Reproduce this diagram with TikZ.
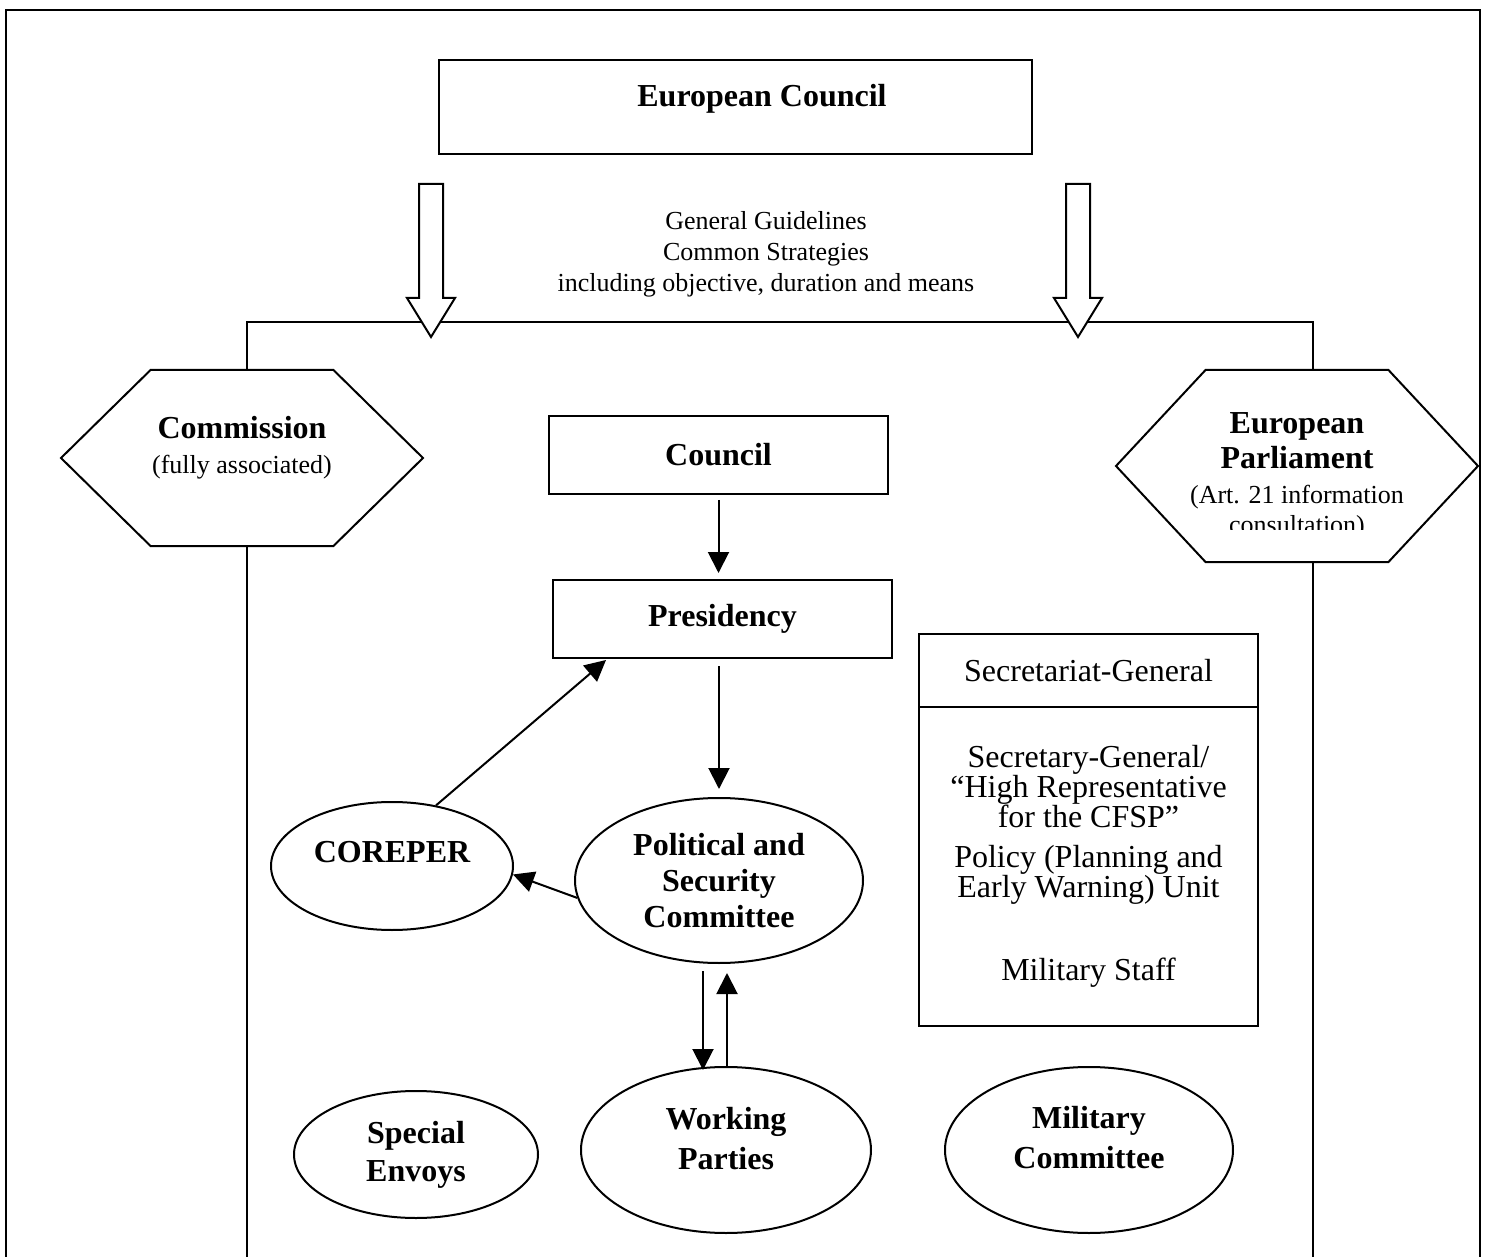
\documentclass[tikz,border=0pt]{standalone}
\usepackage{fontspec}
\setmainfont{Liberation Serif}
\usetikzlibrary{arrows.meta,positioning,shapes.geometric,shapes.symbols,calc}
\tikzstyle{box}=[draw, rectangle, inner sep=0pt, outer sep=0pt]
\tikzstyle{big}=[font=\bfseries\fontsize{16}{18}\selectfont]
\tikzstyle{small}=[font=\fontsize{13}{15.5}\selectfont]
\tikzstyle{hexa}=[draw, signal, signal to=west and east, inner sep=0pt]
\tikzstyle{hextext}=[align=center, font=\bfseries\fontsize{16}{17.5}\selectfont]
\tikzstyle{blob}=[draw, ellipse, inner sep=0pt, align=center, font=\bfseries\fontsize{16}{19}\selectfont]
\tikzstyle{blobtext}=[align=center, font=\bfseries\fontsize{16}{20}\selectfont]
\tikzstyle{link}=[-{Triangle[length=10.5pt,width=10.5pt]}]

\begin{document}
\begin{tikzpicture}[x=0.5pt,y=-0.5pt,line width=1pt]
    \useasboundingbox (0,0) rectangle (1485,1257);
    \draw (6,1257) -- (6,10) -- (1480,10) -- (1480,1257);

    % European Council and its guidelines
    \node[box, minimum width=296.5pt, minimum height=47pt,
          label={[big, xshift=13.25pt, yshift=4pt]center:European Council}] (eucouncil) at (735.5,107) {};
    \node[small, align=center] (guide) at (766,254)
        {General Guidelines\\Common Strategies\\including objective, duration and means};
    \coordinate (lrail) at (247,322);
    \coordinate (rrail) at (1313,322);
    \coordinate (lfoot) at (247,1257);
    \coordinate (rfoot) at (1313,1257);

    % side institutions
    \node[hexa, minimum width=181pt, minimum height=88pt, signal pointer angle=89,
          label={[hextext, yshift=5pt]center:{Commission\\{\mdseries\fontsize{13}{14}\selectfont (fully associated)}}}]
          (comm) at (242,458) {};
    \node[hexa, minimum width=181pt, minimum height=96pt, signal pointer angle=94,
          label={[hextext, yshift=2.5pt]center:{European\\Parliament\\{\mdseries\fontsize{13}{14}\selectfont (Art. 21 information}}}]
          (ep) at (1297,466) {};
    \begin{scope}
        \clip (1150,440) rectangle (1450,530);
        \node[small, anchor=base] (consult) at (1297,533) {consultation)};
    \end{scope}

    \draw (comm.north -| lrail) -- (lrail) -- (rrail) -- (ep.north -| rrail);
    \draw (comm.south -| lfoot) -- (lfoot);
    \draw (ep.south -| rfoot) -- (rfoot);
    \foreach \bx in {431,1078}
        \draw[fill=white] (\bx-12,184) -- (\bx+12,184) -- (\bx+12,298) -- (\bx+24,298)
            -- (\bx,337) -- (\bx-24,298) -- (\bx-12,298) -- cycle;

    % Council side
    \node[box, big, minimum width=169.5pt, minimum height=39pt] (council) at (718.5,455) {Council};
    \node[box, big, minimum width=169.5pt, minimum height=39pt] (pres) at (722.5,619) {Presidency};
    \node[blob, minimum width=121pt, minimum height=64pt,
          label={[blobtext, yshift=7pt]center:COREPER}] (corep) at (392,866) {};
    \node[blob, minimum width=144pt, minimum height=82.5pt, font=\bfseries\fontsize{16}{18}\selectfont] (psc) at (719,880.5)
        {Political and\\Security\\Committee};
    \node[blob, minimum width=122pt, minimum height=63.5pt] (envoys) at (416,1154.5) {Special\\Envoys};
    \node[blob, minimum width=145pt, minimum height=83pt,
          label={[blobtext, yshift=5.5pt]center:{Working\\Parties}}] (wp) at (726,1150) {};
    \node[blob, minimum width=144pt, minimum height=83pt,
          label={[blobtext, yshift=6pt]center:{Military\\Committee}}] (milcom) at (1089,1150) {};

    % Secretariat
    \node[box, minimum width=169.5pt, minimum height=36.5pt, font=\fontsize{16}{15}\selectfont] (secgen) at (1088.5,670.5)
        {Secretariat-General};
    \node[box, below=0pt of secgen, minimum width=169.5pt, minimum height=159.5pt, align=center,
          font=\fontsize{16}{15}\selectfont] (secbody)
        {Secretary-General/\\``High Representative\\for the CFSP''\\[5pt]Policy (Planning and\\Early Warning) Unit\\[26.5pt]Military Staff};

    \draw[link] ([yshift=-3pt]council.south) -- ++(0,73);
    \draw[link] ([xshift=-1.75pt,yshift=-4pt]pres.south) -- ([yshift=4pt]psc.north);
    \draw[link] (corep.54) -- ($(pres.south west)+(53,2)$);
    \draw[link] (psc.187) -- (corep.-4);
    \draw[link] ([xshift=-8pt,yshift=-3.5pt]psc.south) -- ++(0,99);
    \draw[link] ([xshift=0.5pt]wp.north) -- ([xshift=4pt,yshift=-4.5pt]psc.south);
\end{tikzpicture}
\end{document}
